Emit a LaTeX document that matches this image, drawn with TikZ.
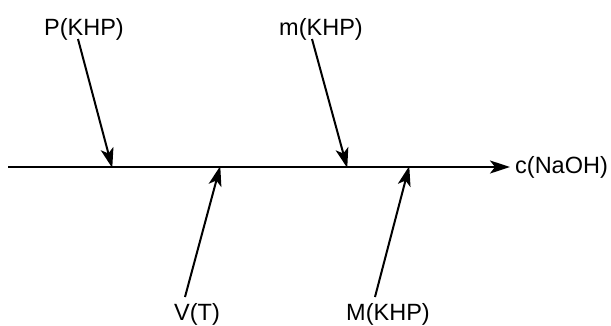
\documentclass[tikz,border=0pt]{standalone}
\usepackage{fontspec}
\setmainfont{Liberation Sans}
\usetikzlibrary{arrows.meta}
\begin{document}
\begin{tikzpicture}[x=1pt,y=-1pt,
  lbl/.style={font=\fontsize{23.5}{27}\selectfont, inner sep=0pt, anchor=base},
  feed/.style={line width=2pt, -{Stealth[length=20pt,width=13pt,inset=5pt]}, shorten >=-1pt}]
\useasboundingbox (0,0) rectangle (611,325);
% main line
\coordinate (L) at (8,167);
\node[lbl, anchor=west, inner xsep=6pt] (c) at (509,167) {c(NaOH)};
\draw[feed] (L) -- (c.west);
% labels
\node[lbl] (P) at (84,35) {P(KHP)};
\node[lbl] (m) at (321,35) {m(KHP)};
\node[lbl] (V) at (197,320) {V(T)};
\node[lbl] (M) at (388,320) {M(KHP)};
% arrow starts and ends
\coordinate (Ps) at (78,39);
\coordinate (Pe) at (112,167);
\coordinate (ms) at (312,39);
\coordinate (me) at (347,167);
\coordinate (Vs) at (185,297);
\coordinate (Ve) at (220,167);
\coordinate (Ms) at (375,297);
\coordinate (Me) at (409,167);
\draw[feed] (Ps) -- (Pe);
\draw[feed] (ms) -- (me);
\draw[feed] (Vs) -- (Ve);
\draw[feed] (Ms) -- (Me);
\end{tikzpicture}
\end{document}
